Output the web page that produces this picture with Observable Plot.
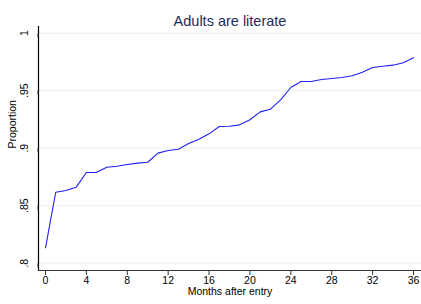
<!DOCTYPE html>
<html>
<head>
<meta charset="utf-8">
<script src="https://cdn.jsdelivr.net/npm/d3@7"></script>
<script src="https://cdn.jsdelivr.net/npm/@observablehq/plot@0.6"></script>
<style>
  html, body { margin: 0; padding: 0; background: #fff; }
  svg { display: block; }
</style>
</head>
<body>
<div id="chart"></div>
<script>
const title = "Adults are literate";
const xLabel = "Months after entry";
const yLabel = "Proportion";
const months = [0,1,2,3,4,5,6,7,8,9,10,11,12,13,14,15,16,17,18,19,20,21,22,23,24,25,26,27,28,29,30,31,32,33,34,35,36];
const proportion = [0.8134,0.8617,0.8632,0.8661,0.8789,0.8790,0.8835,0.8843,0.8858,0.8870,0.8878,0.8957,0.8980,0.8991,0.9041,0.9078,0.9125,0.9189,0.9191,0.9203,0.9247,0.9316,0.9339,0.9421,0.9528,0.9580,0.9580,0.9597,0.9606,0.9615,0.9630,0.9661,0.9702,0.9713,0.9722,0.9743,0.9786];
const xTicks = [0,4,8,12,16,20,24,28,32,36];
const yTicks = [0.8,0.85,0.9,0.95,1];

const data = months.map((m, i) => ({month: m, value: proportion[i]}));
const fmtY = d => d === 1 ? "1" : String(+d.toFixed(2)).replace(/^0/, "");

const chart = Plot.plot({
  width: 421,
  height: 304,
  marginTop: 26,
  marginBottom: 34,
  marginLeft: 38,
  marginRight: 0,
  style: {fontFamily: "'Liberation Sans', Arial, sans-serif", background: "#fff"},
  x: {domain: [0, 36], range: [45, 413]},
  y: {domain: [0.8, 1], range: [262.7, 32.7]},
  marks: [
    Plot.gridY(yTicks, {stroke: "#e6eff0", strokeOpacity: 1, strokeWidth: 1}),
    Plot.frame({anchor: "left", stroke: "#000", strokeWidth: 1.2}),
    Plot.frame({anchor: "bottom", stroke: "#333", strokeWidth: 1.2}),
    Plot.axisX(xTicks, {tickSize: 5, tickPadding: 1, fontSize: 10.5, stroke: "#333", fill: "#000", label: null}),
    Plot.axisY(yTicks, {tickSize: 4, tickPadding: 10, fontSize: 10.5, rotate: -90, textAnchor: "middle", stroke: "#333", fill: "#000", tickFormat: fmtY, label: null}),
    Plot.line(data, {x: "month", y: "value", stroke: "#1f1fff", strokeWidth: 1.1}),
    Plot.text([title], {frameAnchor: "top", dy: -11, fontSize: 14.5, fill: "#1e2d53"}),
    Plot.text([xLabel], {frameAnchor: "bottom", dy: 24.5, fontSize: 10.5, fill: "#000"}),
    Plot.text([yLabel], {frameAnchor: "left", dx: -26, rotate: -90, fontSize: 10.5, fill: "#000"})
  ]
});
document.getElementById("chart").appendChild(chart);
</script>
</body>
</html>
